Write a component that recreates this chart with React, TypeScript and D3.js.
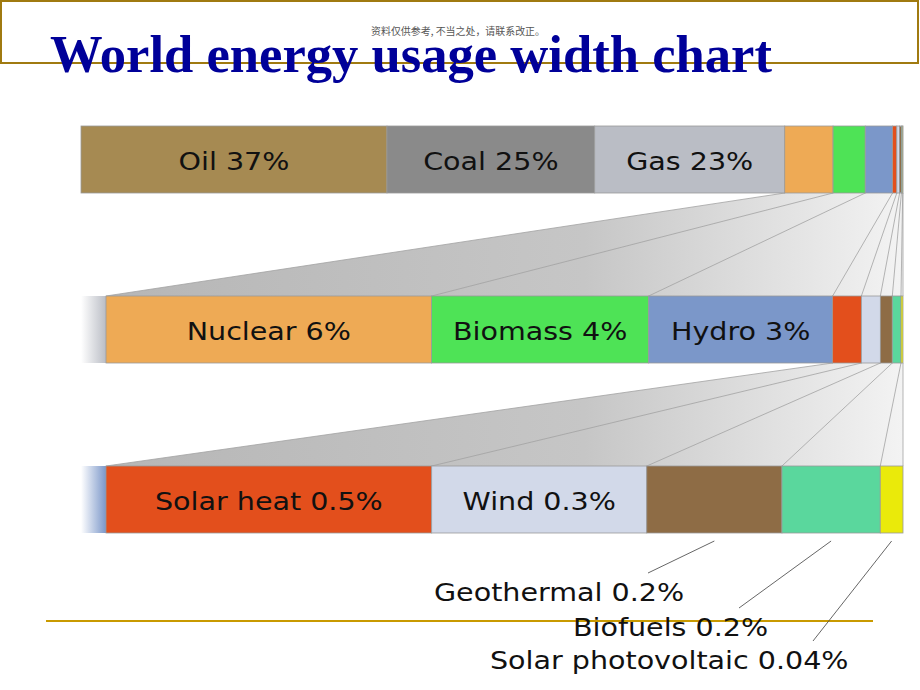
import React from "react";
import * as d3 from "d3";

// ---------- data ----------
const categories = [
  "Oil", "Coal", "Gas", "Nuclear", "Biomass", "Hydro",
  "Solar heat", "Wind", "Geothermal", "Biofuels", "Solar photovoltaic",
];
const labelPercents = ["37%", "25%", "23%", "6%", "4%", "3%", "0.5%", "0.3%", "0.2%", "0.2%", "0.04%"];
// shares as read from the drawn widths
const shares = [38, 25.8, 23.6, 6, 4, 3.39, 0.53, 0.35, 0.22, 0.16, 0.037];
const colors = [
  "#a68a52", "#8a8a8a", "#babdc5", "#eeaa55", "#4ee356", "#7b97c9",
  "#e34f1c", "#d2d9e9", "#8e6c45", "#5ad79d", "#eaea0a",
];
const rowStarts = [0, 3, 6]; // first category shown in each row
const insideLabelCount = [3, 3, 2]; // categories labelled inside each row
const outsideLabels = [8, 9, 10];

const title = "World energy usage width chart";
const note = "资料仅供参考, 不当之处，请联系改正。";

// ---------- layout ----------
const W = 920, H = 690;
const barRight = 903;
const rowLeft = [81, 106, 106];
const fadeLeft = 81;
const rowTop = [126, 296, 466];
const barH = 67;
const stretch = 1.19;
const fontFamily = "'DejaVu Sans', Verdana, sans-serif";
const outsideLabelX = [434, 573, 490];
const outsideLabelY = [601, 636, 669];
const leaderDx = [214, 166, 323];
const leaderTopY = 541;

export default function App() {
  const cum = [0];
  shares.forEach((s, i) => cum.push(cum[i] + s));
  const total = cum[cum.length - 1];

  const scales = rowStarts.map((s, r) =>
    d3.scaleLinear().domain([cum[s], total]).range([rowLeft[r], barRight])
  );

  const rows = rowStarts.map((s, r) => {
    const x = scales[r];
    const y0 = rowTop[r];
    const segs = d3.range(s, categories.length).map((i) => (
      <rect key={i} x={x(cum[i])} y={y0} width={Math.max(0, x(cum[i + 1]) - x(cum[i]))}
        height={barH} fill={colors[i]} stroke="#9a9a9a" strokeWidth={0.8} />
    ));
    const labels = d3.range(s, s + insideLabelCount[r]).map((i) => {
      const cx = (x(cum[i]) + x(cum[i + 1])) / 2;
      return (
        <text key={"t" + i} transform={`translate(${cx},${y0 + barH / 2 + 10}) scale(${stretch},1)`}
          textAnchor="middle" fontSize={24} fontFamily={fontFamily} fill="#111">
          {`${categories[i]} ${labelPercents[i]}`}
        </text>
      );
    });
    const fade = s > 0 ? (
      <rect x={fadeLeft} y={y0} width={rowLeft[r] - fadeLeft} height={barH}
        fill={`url(#fade${r})`} />
    ) : null;
    return <g key={r}>{fade}{segs}{labels}</g>;
  });

  const funnels = rowStarts.slice(1).map((s, k) => {
    const rTop = k, rBot = k + 1;
    const yA = rowTop[rTop] + barH, yB = rowTop[rBot];
    const xa = scales[rTop], xb = scales[rBot];
    const pts = [[xa(cum[s]), yA], [barRight, yA], [barRight, yB], [xb(cum[s]), yB]];
    const lines = d3.range(s, categories.length + 1).map((i) => (
      <line key={i} x1={xa(cum[i])} y1={yA} x2={xb(cum[i])} y2={yB}
        stroke="#a2a2a2" strokeWidth={0.8} />
    ));
    return (
      <g key={k}>
        <polygon points={pts.map((p) => p.join(",")).join(" ")} fill="url(#funnelGrad)" />
        {lines}
      </g>
    );
  });

  const xLast = scales[2];
  const outside = outsideLabels.map((i, j) => {
    const cx = (xLast(cum[i]) + xLast(cum[i + 1])) / 2;
    return (
      <g key={i}>
        <line x1={cx} y1={leaderTopY} x2={outsideLabelX[j] + leaderDx[j]} y2={outsideLabelY[j] - 28}
          stroke="#555" strokeWidth={0.9} />
        <text transform={`translate(${outsideLabelX[j]},${outsideLabelY[j]}) scale(${stretch},1)`}
          fontSize={24} fontFamily={fontFamily} fill="#111">
          {`${categories[i]} ${labelPercents[i]}`}
        </text>
      </g>
    );
  });

  return (
    <svg width={W} height={H} style={{ position: "absolute", left: 0, top: 0, background: "#fff" }}>
      <defs>
        <linearGradient id="funnelGrad" gradientUnits="userSpaceOnUse" x1={106} y1={0} x2={903} y2={0}>
          <stop offset="0" stopColor="#b6b6b6" />
          <stop offset="0.6" stopColor="#c6c6c6" />
          <stop offset="1" stopColor="#f3f3f3" />
        </linearGradient>
        {rowStarts.map((s, r) =>
          s > 0 ? (
            <linearGradient key={r} id={`fade${r}`} x1="0" y1="0" x2="1" y2="0">
              <stop offset="0" stopColor={colors[s - 1]} stopOpacity={0} />
              <stop offset="1" stopColor={colors[s - 1]} stopOpacity={1} />
            </linearGradient>
          ) : null
        )}
      </defs>
      <rect x={1} y={1} width={917} height={62} fill="none" stroke="#a07a10" strokeWidth={2} />
      <text x={371} y={35} fontSize={10} textLength={174} lengthAdjust="spacingAndGlyphs"
        fontFamily="'Noto Sans CJK SC', sans-serif" fill="#555">{note}</text>
      <text x={50} y={72} fontSize={52} fontWeight="bold" textLength={722} lengthAdjust="spacingAndGlyphs"
        fontFamily="'Liberation Serif', 'Times New Roman', serif" fill="#000099">{title}</text>
      {funnels}
      {rows}
      <line x1={46} y1={621} x2={873} y2={621} stroke="#c99a00" strokeWidth={2} />
      {outside}
    </svg>
  );
}
